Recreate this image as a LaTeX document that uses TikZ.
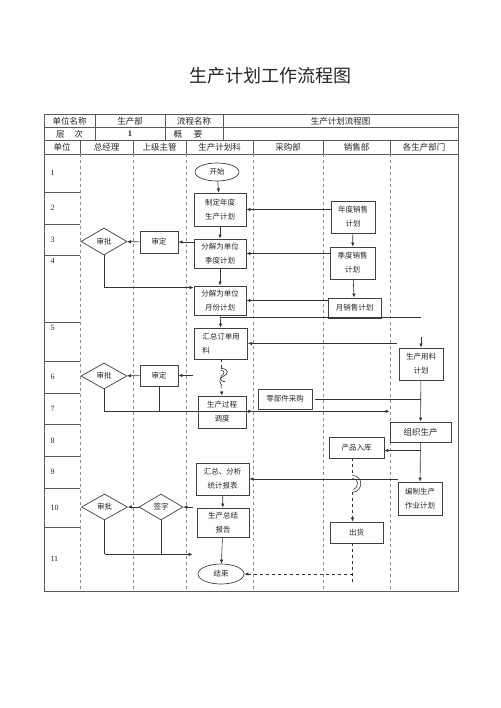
\documentclass[tikz,border=0pt]{standalone}
\usepackage{fontspec}
\setmainfont{Liberation Serif}
\newfontfamily\cjk{Noto Sans CJK SC}
\usetikzlibrary{shapes.geometric, arrows.meta, positioning, calc}

\begin{document}
\begin{tikzpicture}[
    x=1pt, y=-1pt,
    font=\cjk\fontsize{7.5}{14}\selectfont,
    every node/.style={text=black!85},
    frame/.style={draw=black!65, line width=0.7pt},
    lane/.style={draw=black!45, dashed, line width=0.5pt},
    cell/.style={font=\cjk\fontsize{8.5}{10}\selectfont},
    rownum/.style={anchor=west, font=\rmfamily\fontsize{8}{10}\selectfont},
    box/.style={rectangle, draw=black!75, line width=0.9pt, align=center, inner sep=1pt},
    term/.style={ellipse, draw=black!75, line width=0.7pt, inner sep=0pt},
    check/.style={diamond, draw=black!75, line width=0.7pt, inner sep=0pt},
    link/.style={line width=0.6pt, draw=black!80},
    dlink/.style={link, dashed},
    arrow/.style={link, -{Latex[length=4pt,width=3.5pt]}},
    kink/.pic={
        \draw[link] (0,0) .. controls (8,0) and (8,6) .. (2,8)
                          .. controls (-3,10) and (-1,15) .. (1,17);
        \draw[link] (0,2) .. controls (4,2) and (4,5) .. (0,8)
                          .. controls (-2,11) and (2,14) .. (4,13);
    },
    hop/.pic={
        \draw[link] (0,0) .. controls (11,0) and (11,16) .. (0,17);
        \draw[link] (0,3) .. controls (6,3) and (7,11) .. (1,14);
    }
]
    \useasboundingbox[fill=white] (0,0) rectangle (500,708);

    % title
    \node (title) at (270,76) {\fontsize{18}{20}\selectfont 生产计划工作流程图};

    % table frame
    \draw[frame] (44,114) rectangle (458,591);
    \foreach \y in {127,140,154}
        \draw[frame] (44,\y) -- (458,\y);
    \foreach \x in {95,165,223}
        \draw[frame] (\x,114) -- (\x,140);
    \foreach \x in {80,133,186,253,323,390} {
        \draw[frame] (\x,140) -- (\x,154);
        \draw[lane] (\x,154) -- (\x,591);
    }
    \foreach \y in {192,224,255,322,361,393,424,456,488,527}
        \draw[frame] (44,\y) -- (80,\y);

    % table texts
    \node[cell] (h11) at (69.5,121) {单位名称};
    \node[cell] (h12) at (130,121) {生产部};
    \node[cell] (h13) at (194,121) {流程名称};
    \node[cell] (h14) at (340.5,121) {生产计划流程图};
    \node[cell] (h21) at (69.5,134) {层\hspace{10pt}次};
    \node[cell, font=\rmfamily\bfseries\fontsize{8.5}{10}\selectfont] (h22) at (130,134) {1};
    \node[cell] (h23) at (188,134) {概\hspace{12pt}要};
    \node[cell] (h31) at (62,147) {单位};
    \node[cell] (h32) at (106.5,147) {总经理};
    \node[cell] (h33) at (159.5,147) {上级主管};
    \node[cell] (h34) at (219.5,147) {生产计划科};
    \node[cell] (h35) at (288,147) {采购部};
    \node[cell] (h36) at (356.5,147) {销售部};
    \node[cell] (h37) at (424,147) {各生产部门};

    % row numbers
    \foreach \n/\y in {1/173,2/208,3/240,4/261,5/328,6/377,7/409,8/441,9/472,10/508,11/559}
        \node[rownum] (r\n) at (47,\y) {\n};

    % steps
    \node[term, minimum width=44pt, minimum height=18pt] (start) at (217,172) {开始};
    \node[box, minimum width=52pt, minimum height=33pt] (niandu) at (220,209.5) {制定年度\\生产计划};
    \node[box, minimum width=44pt, minimum height=32pt] (nxs) at (353,217) {年度销售\\计划};
    \node[box, minimum width=52pt, minimum height=29pt] (jidu) at (220,253.5) {分解为单位\\季度计划};
    \node[box, minimum width=45pt, minimum height=32pt] (jxs) at (352.5,263) {季度销售\\计划};
    \node[box, minimum width=38pt, minimum height=22pt] (sd1) at (159,242) {审定};
    \node[check, minimum width=46pt, minimum height=27pt] (sp1) at (104,241.5) {审批};
    \node[box, minimum width=52pt, minimum height=29pt] (yuefen) at (220,300.5) {分解为单位\\月份计划};
    \node[box, minimum width=53pt, minimum height=20pt] (yxs) at (354.5,308) {月销售计划};
    \node[box, minimum width=53pt, minimum height=31pt, align=left] (huizong) at (221,343.5) {汇总订单用\\料\hspace{30pt}};
    \node[box, minimum width=44pt, minimum height=32pt] (yongliao) at (421,364) {生产用料\\计划};
    \node[box, minimum width=38pt, minimum height=21pt] (sd2) at (159,375.5) {审定};
    \node[check, minimum width=46pt, minimum height=26pt] (sp2) at (104,376) {审批};
    \node[box, minimum width=54pt, minimum height=20pt] (caigou) at (285,399) {零部件采购};
    \node[box, minimum width=48pt, minimum height=32pt] (diaodu) at (222,412) {生产过程\\调度};
    \node[box, minimum width=61pt, minimum height=20pt, font=\cjk\fontsize{8.5}{10}\selectfont] (zuzhi) at (420.5,432) {组织生产};
    \node[box, minimum width=55pt, minimum height=21pt] (ruku) at (356.5,447.5) {产品入库};
    \node[box, minimum width=53pt, minimum height=32pt] (tongji) at (222.5,479) {汇总、分析\\统计报表};
    \node[box, minimum width=44pt, minimum height=33pt] (bianzhi) at (420,498.5) {编制生产\\作业计划};
    \node[box, minimum width=52pt, minimum height=29pt] (zongjie) at (223,522.5) {生产总结\\报告};
    \node[check, minimum width=44pt, minimum height=26pt] (qz) at (161,507) {签字};
    \node[check, minimum width=46pt, minimum height=26pt] (sp3) at (104.5,507) {审批};
    \node[box, minimum width=53pt, minimum height=21pt] (chuhuo) at (356.5,532.5) {出货};
    \node[term, minimum width=46pt, minimum height=20pt] (jieshu) at (221,574) {结束};

    % flow
    \draw[arrow] (start) -- (niandu);
    \draw[arrow] (nxs.west |- niandu) -- (niandu.east);
    \draw[arrow] (niandu) -- (jidu);
    \draw[arrow] (nxs) -- (jxs);
    \draw[arrow] (jxs.west |- jidu) -- (jidu.east);
    \draw[arrow] (jxs) -- (yxs);
    \draw[arrow] (yxs.west |- yuefen) -- (yuefen.east);
    \draw[arrow] (jidu.west |- sd1) -- (sd1.east);
    \draw[arrow] (sd1) -- (sp1);
    \draw[arrow] (sp1.south) |- ([yshift=-2pt]yuefen.north west);
    \draw[arrow] (jidu) -- (yuefen);
    \draw[arrow] (yuefen) -- (huizong);

    \coordinate (fork1) at ($(yuefen.south)+(0,2)$);
    \draw[link] (fork1) -- (fork1 -| yongliao.north);
    \draw[arrow] ($(yongliao.north)+(0,-11)$) -- (yongliao.north);
    \draw[arrow] ($(huizong.east -| yongliao.west)+(-2,0)$) -- (huizong.east);

    \draw[dlink] (huizong.south) -- ++(0,9) coordinate (w1);
    \pic at (w1) {kink};
    \draw[arrow, dashed] ($(w1)+(0,17)$) -- (diaodu.north);

    \draw[arrow] ($(sd2.east)+(15,0)$) -- (sd2.east);
    \draw[arrow] (sd2) -- (sp2);
    \coordinate (b1) at ($(sp2.south)+(0,22)$);
    \draw[link] (sp2.south) -- (b1);
    \draw[link] (sd2.south) -- (sd2.south |- b1);
    \draw[arrow] (b1) -- ($(b1 -| diaodu.east)+(6,0)$);
    \draw[arrow] ($(b1 -| diaodu.east)+(6,0)$) -- (b1 -| zuzhi.west);

    \draw[link] ([xshift=3pt]caigou.east) -- (caigou.east -| yongliao.south);
    \draw[arrow] (yongliao) -- (zuzhi);
    \draw[arrow] (zuzhi) -- (bianzhi);
    \coordinate (fork2) at ($(zuzhi.south)+(0,8)$);
    \draw[arrow] (fork2) -- (fork2 -| ruku.east);
    \draw[arrow] (tongji.east -| bianzhi.west) -- (tongji.east);

    \draw[dlink] ([xshift=-4pt]ruku.south) -- ++(0,17) coordinate (w2);
    \pic at (w2) {hop};
    \draw[arrow, dashed] ($(w2)+(0,17)$) -- ([xshift=-4pt]chuhuo.north);
    \draw[dlink] ([xshift=-4pt]chuhuo.south) -- ++(0,39) coordinate (d2);
    \draw[arrow, dashed] (jieshu.east -| d2) -- (jieshu.east);

    \draw[arrow] (tongji) -- (zongjie);
    \draw[arrow] (zongjie) -- (jieshu);
    \draw[arrow] ($(qz.east)+(10,0)$) -- (qz.east);
    \draw[arrow] (qz) -- (sp3);
    \coordinate (b2) at ($(sp3.south)+(0,34)$);
    \draw[link] (sp3.south) -- (b2);
    \draw[link] (qz.south) -- (qz.south |- b2);
    \draw[arrow] (b2) -- ($(b2 -| zongjie.west)+(-4,0)$);
\end{tikzpicture}
\end{document}
